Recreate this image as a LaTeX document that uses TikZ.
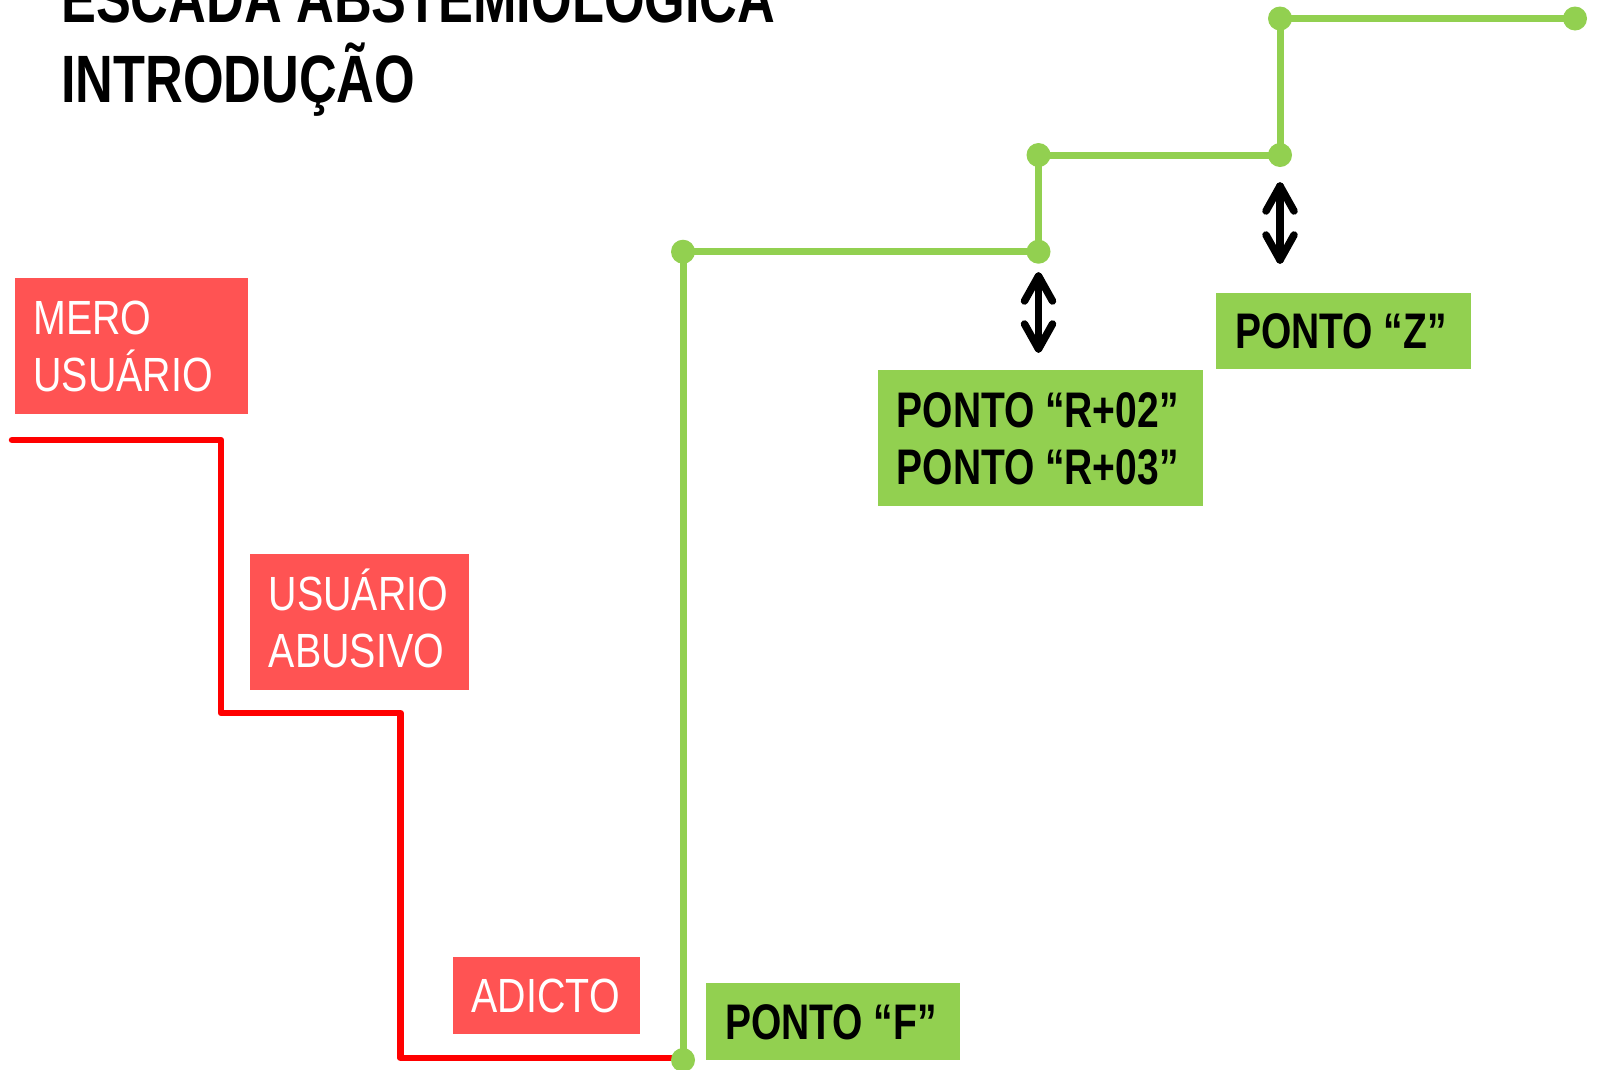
\documentclass[tikz,border=0pt]{standalone}
\usepackage{fontspec}
\setmainfont{Liberation Sans}
\newfontfamily\narrowreg[FakeStretch=0.82]{Liberation Sans}
\newfontfamily\narrowbold[FakeStretch=0.78]{Liberation Sans}
\definecolor{boxred}{RGB}{255,83,83}
\definecolor{stepgreen}{RGB}{146,208,80}
\newcommand{\qgap}{~\kern-6pt}
\begin{document}
\begin{tikzpicture}[x=1pt,y=-1pt,
  redbox/.style={fill=boxred,text=white,font=\narrowreg\fontsize{48}{57}\selectfont,
    anchor=north west,inner xsep=19pt,inner ysep=0pt,align=left,text height=34.4pt},
  greenbox/.style={fill=stepgreen,text=black,font=\narrowbold\bfseries\fontsize{50}{57}\selectfont,
    anchor=north west,inner xsep=19pt,inner ysep=0pt,align=left,text height=35.8pt},
  oneline/.style={text depth=0pt},
  twoline/.style={text depth=57pt},
  dot/.style={circle,fill=stepgreen,minimum size=24pt,inner sep=0pt},
  redline/.style={red,line width=6.5pt,line cap=round,line join=round},
  greenline/.style={stepgreen,line width=7pt,line cap=round,line join=round},
  dblarrow/.style={black,line width=7.5pt,line cap=round,line join=round},
  title/.style={font=\narrowbold\bfseries\fontsize{67}{80}\selectfont,anchor=base west,inner sep=0pt}
]
\useasboundingbox (0,0) rectangle (1598,1069);

% title
\node[title] (t1) at (61,22.5) {ESCADA ABSTEMIOLÓGICA};
\node[title] (t2) at (61,102) {INTRODUÇÃO};

% red boxes
\node[redbox,twoline,minimum width=233.3pt,minimum height=135.7pt,text width=195.3pt] (mero) at (14.3,278) {MERO\\USUÁRIO};
\node[redbox,twoline,minimum width=219.1pt,minimum height=136pt,text width=181.1pt] (abusivo) at (249.7,554) {USUÁRIO\\ABUSIVO};
\node[redbox,oneline,minimum width=187.5pt,minimum height=77pt,text width=149.5pt] (adicto) at (452.5,957) {ADICTO};

% green boxes
\node[greenbox,oneline,minimum width=254pt,minimum height=77pt,text width=216pt] (pf) at (706,983) {PONTO\qgap“F”};
\node[greenbox,twoline,minimum width=325pt,minimum height=135.5pt,text width=287pt] (pr) at (877.5,370) {PONTO\qgap“R+02”\\PONTO\qgap“R+03”};
\node[greenbox,oneline,minimum width=254.5pt,minimum height=76.5pt,text width=216.5pt] (pz) at (1216,292.5) {PONTO\qgap“Z”};

% red stair
\coordinate (r0) at (12,440);
\coordinate (r1) at (221,440);
\coordinate (r2) at (221,713);
\coordinate (r3) at (400.5,713);
\coordinate (r4) at (400.5,1058);
\coordinate (r5) at (683,1058);
\draw[redline] (r0) -- (r1) -- (r2) -- (r3) -- (r4) -- (r5);

% green stair
\node[dot] (g0) at (683,1060) {};
\node[dot] (g1) at (683,251.7) {};
\node[dot] (g2) at (1038.5,251.7) {};
\node[dot] (g3) at (1038.5,155) {};
\node[dot] (g4) at (1280,155) {};
\node[dot] (g5) at (1280,18.5) {};
\node[dot] (g6) at (1575,18.5) {};
\draw[greenline] (g0.center) -- (g1.center) -- (g2.center) -- (g3.center) -- (g4.center) -- (g5.center) -- (g6.center);

% double arrows
\coordinate (a1t) at (1038.5,276);
\coordinate (a1b) at (1038.5,349);
\coordinate (a2t) at (1280,186);
\coordinate (a2b) at (1280,260);
\draw[dblarrow] (a1t) -- (a1b);
\draw[dblarrow] (a1t) ++(-14,25) -- (a1t) -- ++(14,25);
\draw[dblarrow] (a1b) ++(-14,-25) -- (a1b) -- ++(14,-25);
\draw[dblarrow] (a2t) -- (a2b);
\draw[dblarrow] (a2t) ++(-14,25) -- (a2t) -- ++(14,25);
\draw[dblarrow] (a2b) ++(-14,-25) -- (a2b) -- ++(14,-25);
\end{tikzpicture}
\end{document}
